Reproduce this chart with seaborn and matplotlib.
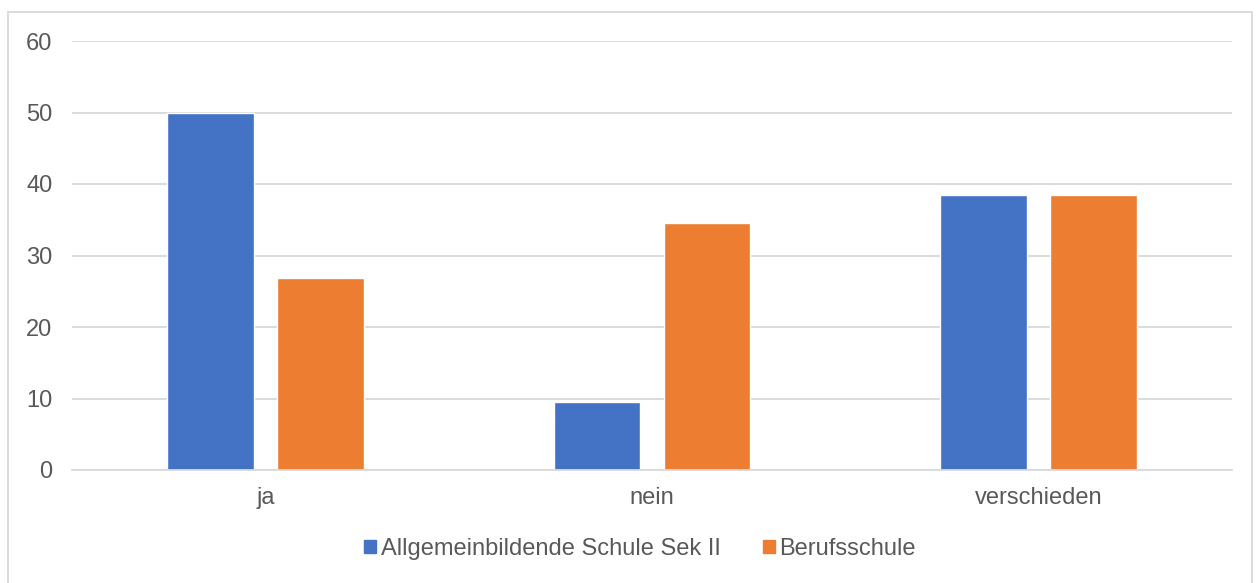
import pandas as pd
import seaborn as sns
import matplotlib.pyplot as plt
from matplotlib.patches import Rectangle

# Daten
kategorien = ["ja", "nein", "verschieden"]
allgemein = [50.0, 9.5, 38.4]
beruf = [26.9, 34.5, 38.4]
serien = ["Allgemeinbildende Schule Sek II", "Berufsschule"]
farben = ["#4472C4", "#ED7D31"]

df = pd.DataFrame({
    "kategorie": kategorien * 2,
    "wert": allgemein + beruf,
    "serie": [serien[0]] * 3 + [serien[1]] * 3,
})

sns.set_style("white")
plt.rcParams["font.family"] = ["Liberation Sans", "DejaVu Sans"]

fig = plt.figure(figsize=(12.6, 5.83), dpi=100)
ax = fig.add_axes([72 / 1260, 1 - 470 / 583, 1160 / 1260, 429 / 583])

sns.barplot(data=df, x="kategorie", y="wert", hue="serie", palette=farben,
            width=0.569, gap=0.21, ax=ax, legend=False, saturation=1)

ax.set_ylim(0, 60)
ax.set_xlim(-0.5, 2.5)
ax.set_yticks(range(0, 61, 10))
ax.yaxis.grid(True, color="#d9d9d9", linewidth=1.3)
ax.set_axisbelow(True)
for s in ["top", "right", "left"]:
    ax.spines[s].set_visible(False)
ax.spines["bottom"].set_color("#d9d9d9")
ax.spines["bottom"].set_linewidth(1.3)
ax.tick_params(axis="both", length=0, labelsize=17, labelcolor="#595959")
ax.tick_params(axis="x", pad=12)
ax.tick_params(axis="y", pad=14)
ax.set_xlabel("")
ax.set_ylabel("")

# Legende
handles = [Rectangle((0, 0), 1, 1, color=c) for c in farben]
fig.legend(handles, serien, loc="center", bbox_to_anchor=(0.508, 1 - 549 / 583),
           ncol=2, frameon=False, fontsize=17, labelcolor="#595959",
           handlelength=0.5, handleheight=0.5, handletextpad=0.2, columnspacing=1.8)

# Rahmen
fig.patches.append(Rectangle((8 / 1260, -0.05), 1244 / 1260, 0.05 + 571 / 583, transform=fig.transFigure,
                             fill=False, edgecolor="#d9d9d9", linewidth=1.3))

fig.savefig("out.png", dpi=100)
